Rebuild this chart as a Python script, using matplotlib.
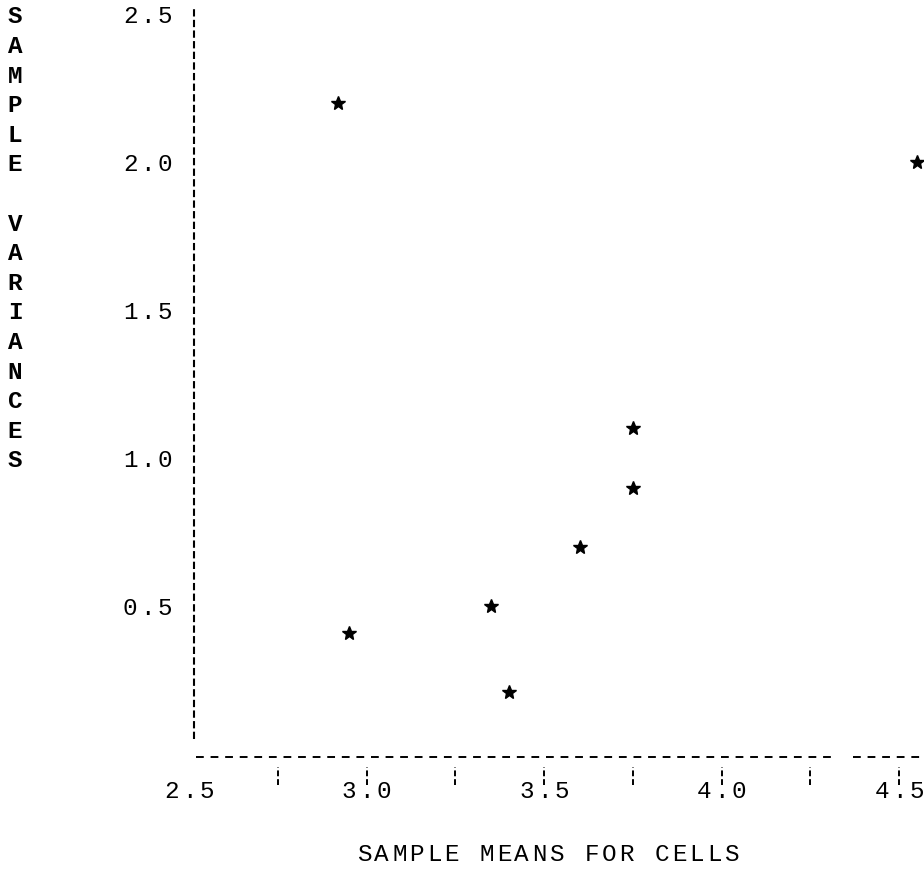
import numpy as np
import matplotlib.pyplot as plt
from matplotlib.transforms import offset_copy

# cell means / variances
means = [2.92, 4.55, 3.75, 3.75, 3.60, 3.35, 2.95, 3.40]
variances = [2.21, 2.01, 1.11, 0.91, 0.71, 0.51, 0.42, 0.22]

x_labels = ['2.5', '3.0', '3.5', '4.0', '4.5']
x_label_pos = [2.5, 3.0, 3.5, 4.0, 4.5]
x_tick_pos = [2.75, 3.0, 3.25, 3.5, 3.75, 4.0, 4.25, 4.5]
y_labels = ['2.5', '2.0', '1.5', '1.0', '0.5']
y_label_pos = [2.5, 2.0, 1.5, 1.0, 0.5]

ylab = 'SAMPLE VARIANCES'
xlab = 'SAMPLE MEANS FOR CELLS'

FONT = 'Liberation Mono'
PITCH = 17.5   # typewriter character pitch, pixels
FS = 17.5


def typed(fig, trans, x, y, s, ha='center', shift=0, **kw):
    # lay a string out character by character at a fixed pitch
    n = len(s)
    if ha == 'center':
        start = -(n - 1) / 2 * PITCH
    else:
        start = -(n - 1) * PITCH
    for i, ch in enumerate(s):
        if ch == ' ':
            continue
        tr = offset_copy(trans, fig=fig, x=start + i * PITCH + shift, y=0,
                         units='dots')
        fig.text(x, y, ch, transform=tr, ha='center', va='center',
                 fontsize=FS, family=FONT, **kw)


fig = plt.figure(figsize=(9.24, 8.88), dpi=100)
ax = fig.add_axes([0, 0, 1, 1])
ax.set_xlim(1.9676, 4.5704)
ax.set_ylim(-0.443, 2.557)
ax.axis('off')

# axes drawn as dashed typewriter lines
ax.plot([2.513, 2.513], [0.06, 2.53], color='black', lw=1.5,
        linestyle=(0, (3.5, 1.6)))
ax.plot([2.52, 4.31], [0.0, 0.0], color='black', lw=1.4,
        linestyle=(0, (4, 3.5)))
ax.plot([4.37, 4.6], [0.0, 0.0], color='black', lw=1.4,
        linestyle=(0, (4, 3.5)))
ax.vlines(x_tick_pos, -0.095, -0.035, color='black', lw=1.4,
          linestyles=(0, (3, 1.5)))

ax.plot(means, variances, linestyle='none', marker='*', color='black',
        markersize=10, clip_on=False)

for v, s in zip(x_label_pos, x_labels):
    typed(fig, ax.transData, v, -0.118, s)
for v, s in zip(y_label_pos, y_labels):
    typed(fig, ax.transData, 2.5, v, s, ha='right', shift=-24)

for i, ch in enumerate(ylab):
    if ch != ' ':
        ax.text(2.5 - 174 / 355, 2.5 - 0.1 * i, ch, ha='center',
                va='center', fontsize=FS, family=FONT, fontweight='bold')

typed(fig, fig.transFigure, 548 / 924, 1 - 854 / 888, xlab)

fig.savefig('out.png', dpi=100)
